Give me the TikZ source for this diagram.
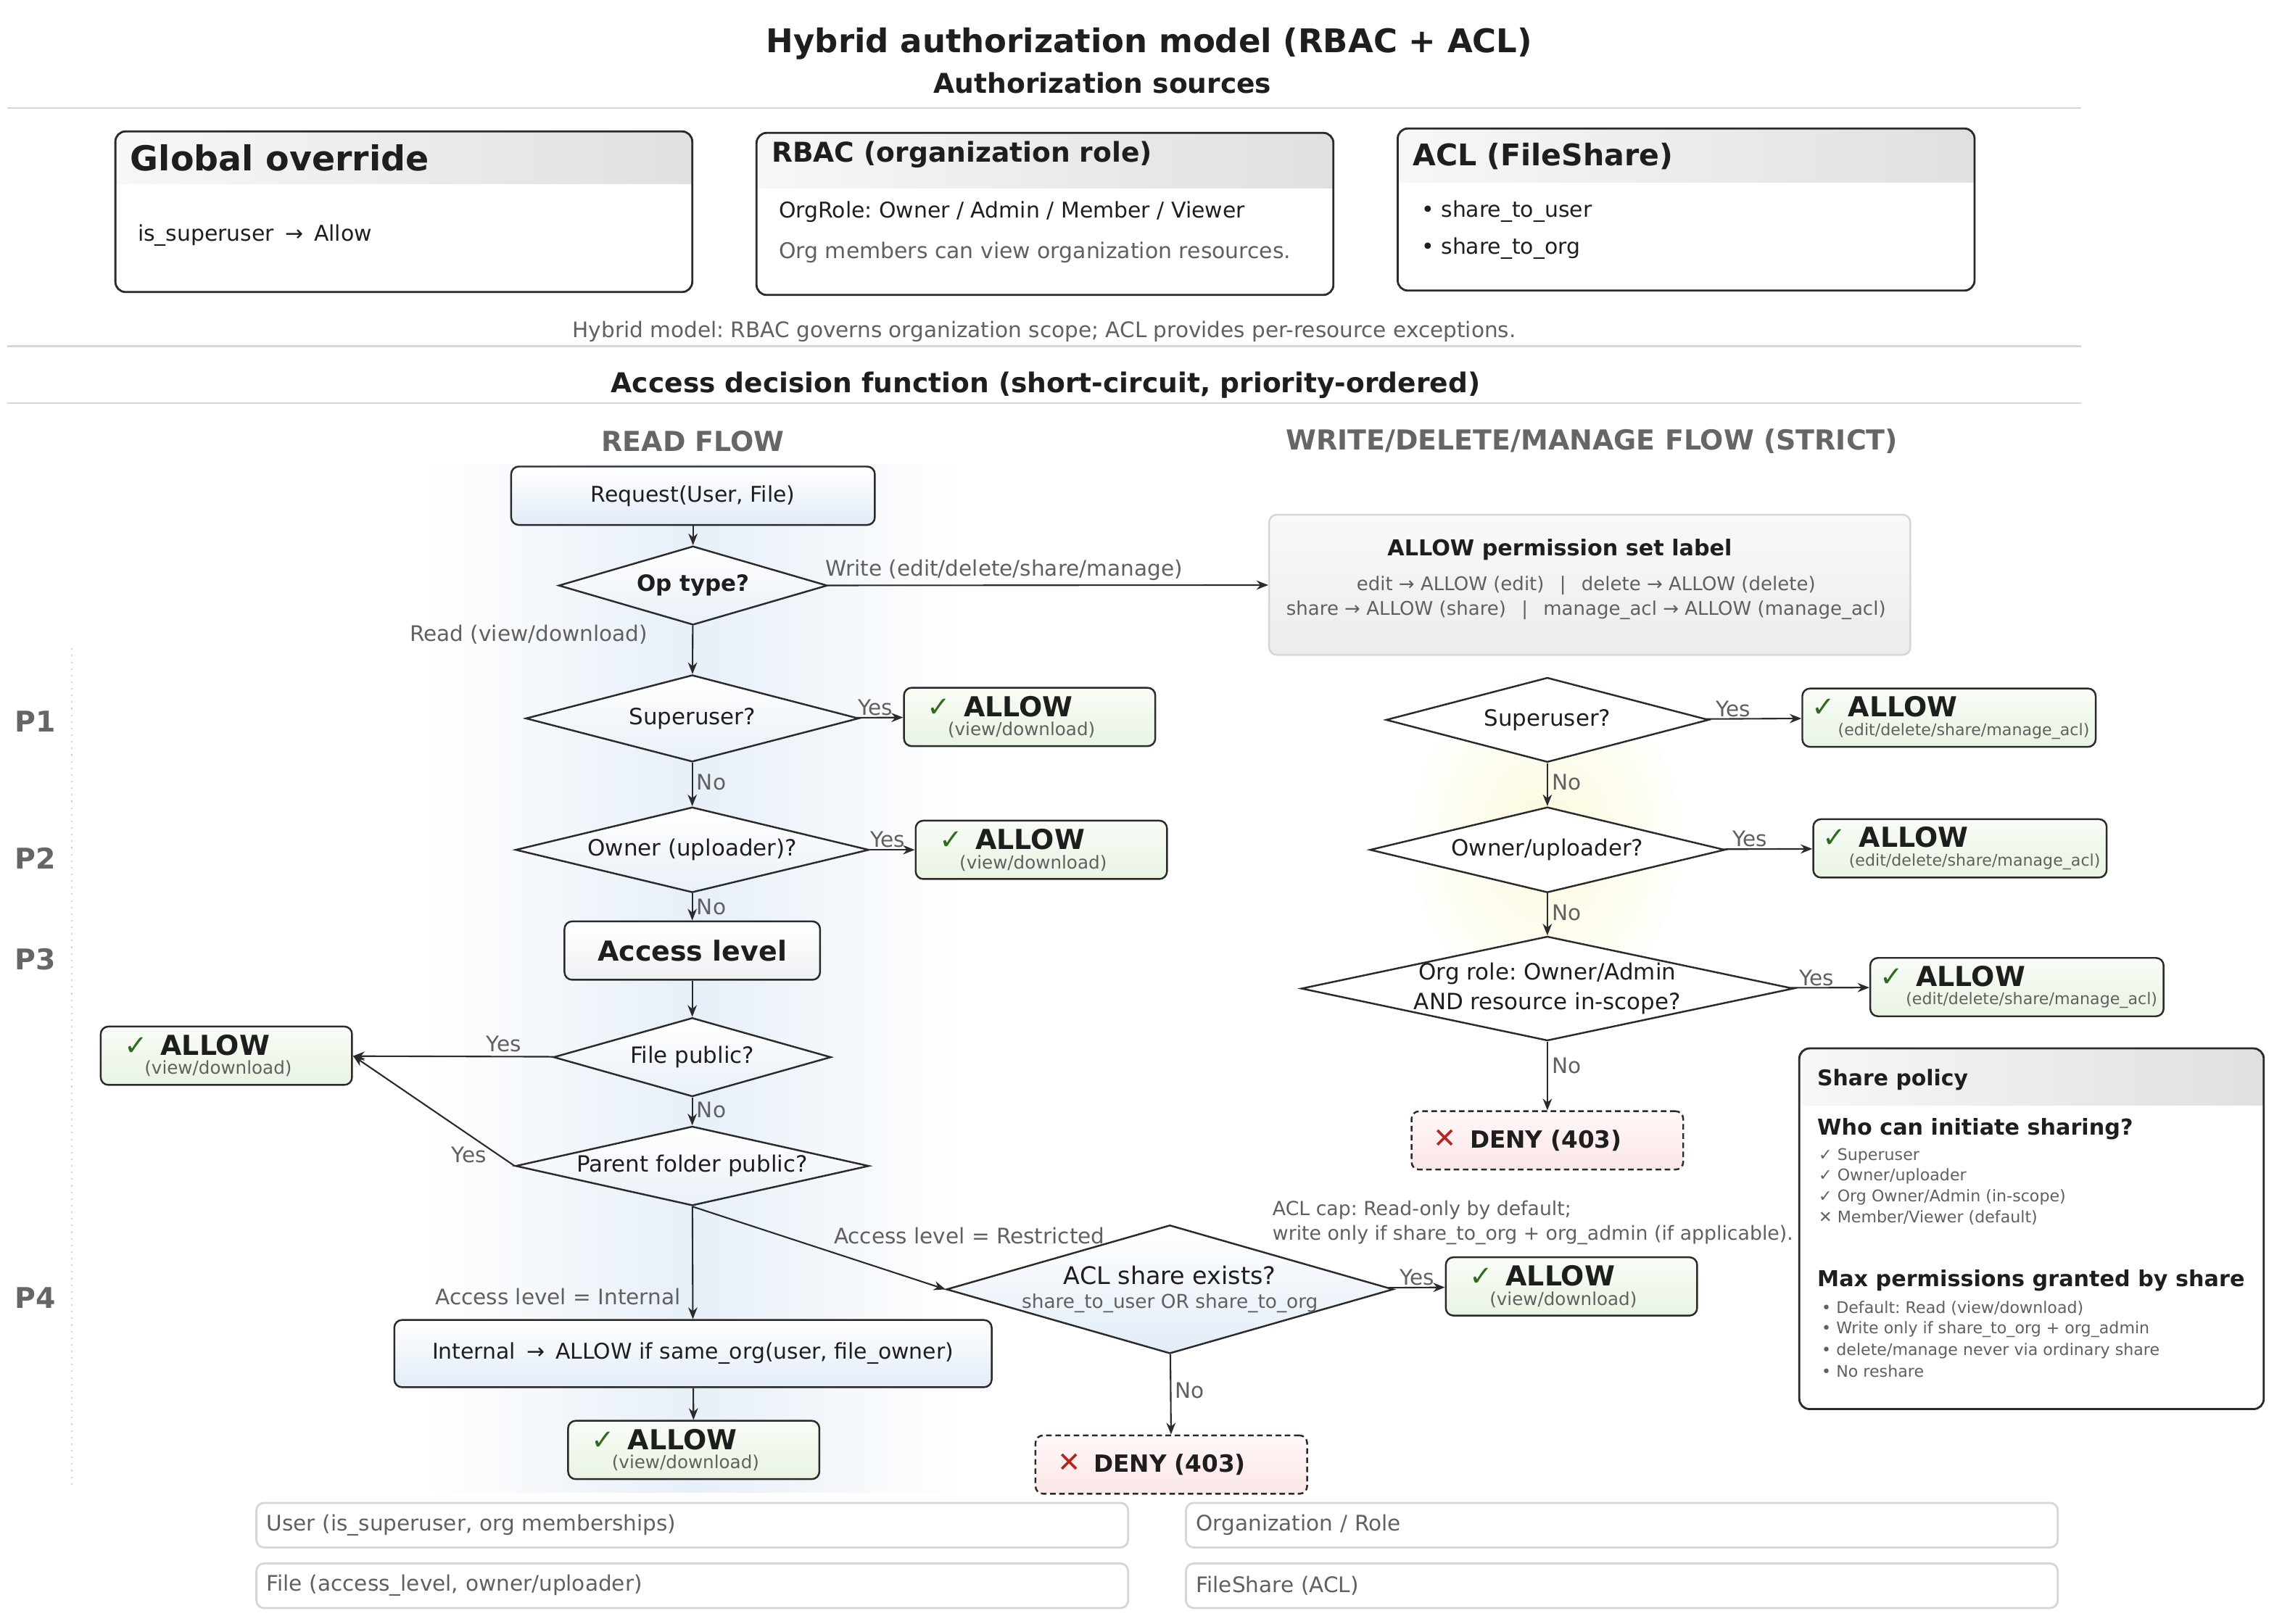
\documentclass[tikz,border=0pt]{standalone}
\usepackage{fontspec}
\setmainfont{DejaVu Sans}
\usetikzlibrary{shapes.geometric,arrows.meta,positioning}

\definecolor{edgec}{HTML}{2A2A2A}
\definecolor{textc}{HTML}{1E1E1E}
\definecolor{txtgray}{HTML}{606060}
\definecolor{hdgray}{HTML}{666666}
\definecolor{sepc}{HTML}{D6D6D6}
\definecolor{okgreen}{HTML}{2E6B1E}
\definecolor{denyred}{HTML}{B3261E}
\definecolor{allowtop}{HTML}{F8FCF6}
\definecolor{allowbot}{HTML}{E9F4E4}
\definecolor{denytop}{HTML}{FFF7F7}
\definecolor{denybot}{HTML}{FBE6E6}
\definecolor{bluebot}{HTML}{E2ECF7}
\definecolor{plainbot}{HTML}{EEF1F4}
\definecolor{diablue}{HTML}{E9F0F8}
\definecolor{hdrl}{HTML}{F7F7F7}
\definecolor{hdrr}{HTML}{E0E0E0}
\definecolor{permtop}{HTML}{F9F9F9}
\definecolor{permbot}{HTML}{ECECEC}
\definecolor{readbg}{HTML}{E7EFF8}
\definecolor{writebg}{HTML}{FCF9DC}

\newcommand{\allowlines}[2]{\makebox[14.3pt][l]{\textcolor{okgreen}{\fontsize{11}{11}\selectfont ✓}}{\fontsize{10.8}{10.8}\selectfont\bfseries ALLOW}\\\hspace*{#1}\textcolor{txtgray}{#2}}
\newcommand{\denyline}{\makebox[14.3pt][l]{\textcolor{denyred}{\fontsize{11}{11}\selectfont ✕}}DENY (403)}

\tikzset{
  sz/.style 2 args={minimum width=#1*0.573pt, minimum height=#2*0.573pt},
  flow/.style={draw=edgec, line width=0.6pt, -{Stealth[length=4.6pt, width=3.6pt]}},
  lbl/.style={text=txtgray, font=\fontsize{8.4}{10}\selectfont, inner sep=1.5pt},
  txt/.style={anchor=west, inner sep=0pt},
  sepline/.style={draw=sepc, line width=0.7pt},
  srcbox/.style={draw=edgec, line width=0.8pt, rounded corners=4pt},
  flowbox/.style={rectangle, rounded corners=3pt, draw=edgec, line width=0.7pt, inner sep=0pt},
  bluebox/.style={flowbox, top color=white, bottom color=bluebot},
  plainbox/.style={flowbox, top color=white, bottom color=plainbot},
  dia/.style={diamond, aspect=4, draw=edgec, line width=0.7pt, inner sep=0pt,
    font=\fontsize{8.8}{11.5}\selectfont, align=center},
  readdia/.style={dia, top color=white, bottom color=diablue},
  wdia/.style={dia, fill=white},
  allowR/.style={flowbox, top color=allowtop, bottom color=allowbot, minimum height=22.9pt,
    text width=80.2pt, inner xsep=9.2pt, align=left, font=\fontsize{7}{7.6}\selectfont},
  allowW/.style={flowbox, top color=allowtop, bottom color=allowbot, minimum height=22.9pt,
    text width=107.7pt, inner xsep=3.7pt, align=left, font=\fontsize{6.3}{7.2}\selectfont},
  denybox/.style={flowbox, dash pattern=on 2.2pt off 1.4pt, top color=denytop, bottom color=denybot,
    minimum height=22.9pt, text width=89.4pt, inner xsep=8.6pt, align=left,
    font=\fontsize{9.3}{11}\selectfont\bfseries},
  flowhd/.style={text=hdgray, font=\fontsize{10.8}{13}\selectfont\bfseries},
  lane/.style={text=hdgray, font=\fontsize{11.2}{13}\selectfont\bfseries},
  legbox/.style={rectangle, rounded corners=3pt, draw=sepc, line width=0.8pt, fill=white,
    minimum height=17.5pt, text width=334pt, inner xsep=4pt, align=left, text=txtgray,
    font=\fontsize{8.4}{10}\selectfont},
}

\begin{document}
\frenchspacing
\begin{tikzpicture}[x=0.573pt, y=-0.573pt, font=\fontsize{8.5}{10.5}\selectfont, text=textc]
\useasboundingbox (0,0) rectangle (1568,1112);
\fill[white] (0,0) rectangle (1568,1112);

% soft backgrounds behind the two flows
\shade[left color=white, right color=white, middle color=readbg] (290,318) rectangle (660,1022);
\shade[inner color=writebg, outer color=white] (1059,575) ellipse [x radius=100, y radius=125];

% headings
\node (title) at (787,30) {\fontsize{12.8}{15}\selectfont\bfseries Hybrid authorization model (RBAC + ACL)};
\node (srchd) at (755,57) {\fontsize{10.7}{13}\selectfont\bfseries Authorization sources};
\draw[sepline] (5,74) -- (1425,74);

% authorization sources
\begin{scope}
  \clip[rounded corners=4pt] (79,90) rectangle (474,200);
  \shade[left color=hdrl, right color=hdrr] (79,90) rectangle (474,126);
\end{scope}
\draw[srcbox] (79,90) rectangle (474,200);
\node (glob) [txt] at (89,108) {\fontsize{13.5}{16}\selectfont\bfseries Global override};
\node (globtxt) [txt] at (94,161) {is\_superuser\enspace→\enspace Allow};

\begin{scope}
  \clip[rounded corners=4pt] (518,91) rectangle (913,202);
  \shade[left color=hdrl, right color=hdrr] (518,91) rectangle (913,129);
\end{scope}
\draw[srcbox] (518,91) rectangle (913,202);
\node (rbac) [txt] at (528,106) {\fontsize{10.7}{13}\selectfont\bfseries RBAC (organization role)};
\node (rbac1) [txt] at (533,145) {OrgRole: Owner / Admin / Member / Viewer};
\node (rbac2) [txt, text=txtgray] at (533,173) {Org members can view organization resources.};

\begin{scope}
  \clip[rounded corners=4pt] (957,88) rectangle (1352,199);
  \shade[left color=hdrl, right color=hdrr] (957,88) rectangle (1352,125);
\end{scope}
\draw[srcbox] (957,88) rectangle (1352,199);
\node (acl) [txt] at (967,107) {\fontsize{11.7}{14}\selectfont\bfseries ACL (FileShare)};
\node (acl1) [txt] at (973,145) {• share\_to\_user};
\node (acl2) [txt] at (973,170) {• share\_to\_org};

\node (hybnote) [text=txtgray, font=\fontsize{8.4}{10}\selectfont] at (715,227)
  {Hybrid model: RBAC governs organization scope; ACL provides per-resource exceptions.};
\draw[sepline] (5,237) -- (1425,237);
\node (adf) at (716,264) {\fontsize{10.7}{13}\selectfont\bfseries Access decision function (short-circuit, priority-ordered)};
\draw[sepline] (5,276) -- (1425,276);

\node (readhd) [flowhd] at (474.5,302) {READ FLOW};
\node (writehd) [flowhd] at (1090,302) {WRITE/DELETE/MANAGE FLOW (STRICT)};

% priority lanes
\draw[sepc, dotted, line width=0.6pt] (49,444) -- (49,1018);
\node (p1) [lane] at (24,494) {P1};
\node (p2) [lane] at (24,588) {P2};
\node (p3) [lane] at (24,657) {P3};
\node (p4) [lane] at (24,889) {P4};

% read flow
\node (req) [bluebox, sz={249}{40}] at (474.5,339.5) {Request(User, File)};
\node (optype) [readdia, sz={184}{54}, font=\fontsize{8.8}{11}\selectfont\bfseries] at (474.5,401) {Op type?};
\node (permset) [flowbox, draw=sepc, top color=permtop, bottom color=permbot, sz={439}{96}] at (1088.5,400.5) {};
\node (permtitle) at (1068,376.5) {\fontsize{8.6}{10}\selectfont\bfseries ALLOW permission set label};
\node (perm1) [text=txtgray, font=\fontsize{7.4}{9}\selectfont] at (1086,401)
  {edit → ALLOW (edit) \enspace|\enspace\ delete → ALLOW (delete)};
\node (perm2) [text=txtgray, font=\fontsize{7.4}{9}\selectfont] at (1086,418)
  {share → ALLOW (share) \enspace|\enspace\ manage\_acl → ALLOW (manage\_acl)};

\node (rsu) [readdia, sz={228}{59.5}] at (474,492) {Superuser?};
\node (ra1) [allowR] at (705,491) {\allowlines{8pt}{(view/download)}};
\node (rown) [readdia, sz={242}{58.5}] at (474,582) {Owner (uploader)?};
\node (ra2) [allowR] at (713,582) {\allowlines{8pt}{(view/download)}};
\node (acclvl) [plainbox, sz={175}{40}] at (474,651) {\fontsize{10.8}{13}\selectfont\bfseries Access level};
\node (rfp) [readdia, sz={190}{54}] at (474,724) {File public?};
\node (ra3) [allowR] at (155,723) {\allowlines{8pt}{(view/download)}};
\node (rpf) [readdia, sz={242}{53}] at (474,798.5) {Parent folder public?};
\node (rint) [bluebox, sz={409}{46}] at (474.5,927) {Internal\enspace→\enspace ALLOW if same\_org(user, file\_owner)};
\node (ra4) [allowR] at (475,993) {\allowlines{8pt}{(view/download)}};
\node (racl) [readdia, bottom color=bluebot, sz={306}{88}, inner ysep=-2.8pt, font=\fontsize{7.5}{9.3}\selectfont] at (801,883)
  {{\fontsize{9.5}{9.3}\selectfont ACL share exists?}\\{\color{txtgray}share\_to\_user OR share\_to\_org}};
\node (ra5) [allowR] at (1076,881) {\allowlines{8pt}{(view/download)}};
\node (rdeny) [denybox] at (802,1003) {\denyline};
\node (aclcap) [lbl, anchor=west, align=left, inner sep=0pt, font=\fontsize{7.6}{9.7}\selectfont] at (871,837.5)
  {ACL cap: Read-only by default;\\write only if share\_to\_org + org\_admin (if applicable).};

\draw[flow] (req) -- (optype);
\draw[flow] (optype) -- node[lbl, pos=0.4, above] {Write (edit/delete/share/manage)} (permset);
\draw[flow] (optype) -- node[lbl, pos=0.18, left=16pt] {Read (view/download)} (rsu);
\draw[flow] (rsu) -- node[lbl, pos=0.4, above=-1pt] {Yes} (ra1);
\draw[flow] (rsu) -- node[lbl, pos=0.45, right] {No} (rown);
\draw[flow] (rown) -- node[lbl, pos=0.4, above=-1pt] {Yes} (ra2);
\draw[flow] (rown) -- node[lbl, pos=0.5, right] {No} (acclvl);
\draw[flow] (acclvl) -- (rfp);
\draw[flow] (rfp) -- node[lbl, pos=0.25, above] {Yes} (ra3);
\draw[flow] (rfp) -- node[lbl, pos=0.45, right] {No} (rpf);
\draw[flow] (rpf.west) -- node[lbl, pos=0.1, left=3pt] {Yes} (ra3.east);
\draw[flow] (rpf) -- node[lbl, pos=0.8, left=3pt] {Access level = Internal} (rint);
\draw[flow] (rpf.south) -- node[lbl, pos=0.35, right=19pt] {Access level = Restricted} (racl.west);
\draw[flow] (rint) -- (ra4);
\draw[flow] (racl) -- node[lbl, pos=0.5, above=-1pt] {Yes} (ra5);
\draw[flow] (racl) -- node[lbl, pos=0.45, right] {No} (rdeny);

% write / delete / manage flow
\node (wsu) [wdia, sz={221}{58}] at (1059.5,493) {Superuser?};
\node (wa1) [allowW] at (1334.5,491.5) {\allowlines{10.3pt}{(edit/delete/share/manage\_acl)}};
\node (wown) [wdia, sz={243}{58.6}] at (1059.5,582) {Owner/uploader?};
\node (wa2) [allowW] at (1342,581) {\allowlines{10.3pt}{(edit/delete/share/manage\_acl)}};
\node (worg) [wdia, sz={337}{71.5}, inner ysep=-3pt] at (1059.5,677) {Org role: Owner/Admin\\AND resource in-scope?};
\node (wa3) [allowW] at (1381,676) {\allowlines{10.3pt}{(edit/delete/share/manage\_acl)}};
\node (wdeny) [denybox] at (1059.5,781) {\denyline};

\draw[flow] (wsu) -- node[lbl, pos=0.28, above=-1pt] {Yes} (wa1);
\draw[flow] (wsu) -- node[lbl, pos=0.45, right] {No} (wown);
\draw[flow] (wown) -- node[lbl, pos=0.3, above=-1pt] {Yes} (wa2);
\draw[flow] (wown) -- node[lbl, pos=0.45, right] {No} (worg);
\draw[flow] (worg) -- node[lbl, pos=0.33, above=-1pt] {Yes} (wa3);
\draw[flow] (worg) -- node[lbl, pos=0.35, right] {No} (wdeny);

% share policy panel
\begin{scope}
  \clip[rounded corners=4pt] (1232,718) rectangle (1550,965);
  \shade[left color=hdrl, right color=hdrr] (1232,718) rectangle (1550,757);
\end{scope}
\draw[srcbox] (1232,718) rectangle (1550,965);
\node (sptitle) [txt] at (1244,739.5) {\fontsize{8.5}{10}\selectfont\bfseries Share policy};
\node (spwho) [txt] at (1244,773) {\fontsize{8.6}{10}\selectfont\bfseries Who can initiate sharing?};
\node (spw1) [txt, text=txtgray, font=\fontsize{6.3}{7.5}\selectfont] at (1245,791.5) {✓ Superuser};
\node (spw2) [txt, text=txtgray, font=\fontsize{6.3}{7.5}\selectfont] at (1245,805.5) {✓ Owner/uploader};
\node (spw3) [txt, text=txtgray, font=\fontsize{6.3}{7.5}\selectfont] at (1245,820) {✓ Org Owner/Admin (in-scope)};
\node (spw4) [txt, text=txtgray, font=\fontsize{6.3}{7.5}\selectfont] at (1245,834) {✕ Member/Viewer (default)};
\node (spmax) [txt] at (1244,877) {\fontsize{8.6}{10}\selectfont\bfseries Max permissions granted by share};
\node (spm1) [txt, text=txtgray, font=\fontsize{6.3}{7.5}\selectfont] at (1247,896) {• Default: Read (view/download)};
\node (spm2) [txt, text=txtgray, font=\fontsize{6.3}{7.5}\selectfont] at (1247,910.5) {• Write only if share\_to\_org + org\_admin};
\node (spm3) [txt, text=txtgray, font=\fontsize{6.3}{7.5}\selectfont] at (1247,925) {• delete/manage never via ordinary share};
\node (spm4) [txt, text=txtgray, font=\fontsize{6.3}{7.5}\selectfont] at (1247,939) {• No reshare};

% entity legend
\node (lguser) [legbox] at (474,1044.5) {User (is\_superuser, org memberships)};
\node (lgorg) [legbox] at (1110.5,1044.5) {Organization / Role};
\node (lgfile) [legbox] at (474,1086) {File (access\_level, owner/uploader)};
\node (lgshare) [legbox] at (1110.5,1086) {FileShare (ACL)};
\end{tikzpicture}
\end{document}
